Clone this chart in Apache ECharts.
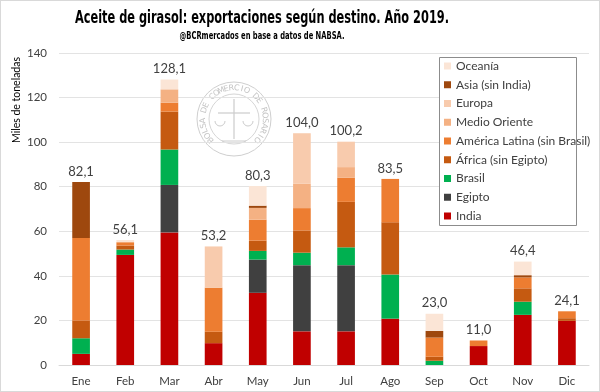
<!DOCTYPE html>
<html>
<head>
<meta charset="utf-8">
<script src="https://cdn.jsdelivr.net/npm/echarts@6/dist/echarts.min.js"></script>
<style>
html,body{margin:0;padding:0;background:#fff;}
#c{width:600px;height:392px;box-sizing:border-box;border:1px solid #d9d9d9;}
</style>
</head>
<body>
<div id="c"></div>
<script>
const categories = ['Ene','Feb','Mar','Abr','May','Jun','Jul','Ago','Sep','Oct','Nov','Dic'];
const india   = [5.0,49.4,59.5,9.8,32.4,15.1,15.1,20.8,0,8.5,22.5,19.8];
const egipto  = [0,0,21.3,0,14.9,29.7,29.7,0,0,0,0,0];
const brasil  = [7.0,2.4,15.9,0,3.9,5.6,8.0,19.8,1.9,0,5.9,0];
const africa  = [8.0,1.8,17.0,5.1,4.6,10.0,20.4,23.4,1.8,0,6.0,1.2];
const amlat   = [37.0,1.5,4.0,19.8,9.4,10.0,10.9,19.5,8.6,2.5,4.9,3.1];
const medio   = [0,0,6.0,0,5.3,10.9,4.7,0,0,0,0,0];
const europa  = [0,0,0,18.5,0,22.7,11.4,0,0,0,0,0];
const asia    = [25.1,0,0,0,1.0,0,0,0,3.0,0,1.0,0];
const oceania = [0,1.0,4.4,0,8.8,0,0,0,7.7,0,6.1,0];
const totals  = [82.1,56.1,128.1,53.2,80.3,104.0,100.2,83.5,23.0,11.0,46.4,24.1];
const yTicks  = [0,20,40,60,80,100,120,140];

const FONT = 'Lato, "Noto Sans", sans-serif';
const COND = '"DejaVu Sans Condensed", "DejaVu Sans", sans-serif';
const seriesDefs = [
  ['India', india, '#c00000'],
  ['Egipto', egipto, '#404040'],
  ['Brasil', brasil, '#00b050'],
  ['África (sin Egipto)', africa, '#c55a11'],
  ['América Latina (sin Brasil)', amlat, '#ed7d31'],
  ['Medio Oriente', medio, '#f4b183'],
  ['Europa', europa, '#f8cbad'],
  ['Asia (sin India)', asia, '#9e480e'],
  ['Oceanía', oceania, '#fbe5d6']
];
const series = seriesDefs.map(d => ({
  name: d[0], type: 'bar', stack: 'total', data: d[1], barWidth: '40%',
  itemStyle: {color: d[2]}, emphasis: {disabled: true}
}));
series.push({
  name: 'total', type: 'bar', stack: 'total', data: totals.map(() => 0), barWidth: '40%',
  itemStyle: {color: 'transparent'},
  label: {show: true, position: 'top', distance: 4, color: '#404040', fontSize: 13, fontFamily: FONT,
    formatter: p => totals[p.dataIndex].toFixed(1).replace('.', ',')}
});

// fit condensed text to a target width
const mctx = document.createElement('canvas').getContext('2d');
function fitText(text, font, targetW, x, y) {
  mctx.font = font;
  const w = mctx.measureText(text).width;
  return {type: 'text', x: x, y: y, scaleX: targetW / w, scaleY: 1,
    style: {text: text, font: font, fill: '#000', align: 'center', verticalAlign: 'middle'}, z: 10};
}

// watermark seal
const cx = 233, cy = 118;
const seal = [];
seal.push({type:'circle', shape:{cx:cx, cy:cy, r:37}, style:{fill:'none', stroke:'#cfcfcf', lineWidth:1}, z:0});
seal.push({type:'circle', shape:{cx:cx, cy:cy, r:25}, style:{fill:'none', stroke:'#d6d6d6', lineWidth:1}, z:0});
const sealTxt = 'BOLSA DE COMERCIO DE ROSARIO';
const a0 = -132, a1 = 132;
for (let i = 0; i < sealTxt.length; i++) {
  const th = (a0 + (a1 - a0) * i / (sealTxt.length - 1)) * Math.PI / 180;
  seal.push({type:'text', x: cx + 31 * Math.sin(th), y: cy - 31 * Math.cos(th), rotation: -th,
    style:{text: sealTxt[i], fill:'#c4c4c4', font:'8px "DejaVu Sans"', align:'center', verticalAlign:'middle'}, z:0});
}
seal.push({type:'line', shape:{x1:cx, y1:cy-20, x2:cx, y2:cy+20}, style:{stroke:'#cccccc', lineWidth:1.2}, z:0});
seal.push({type:'line', shape:{x1:cx-16, y1:cy-6, x2:cx+16, y2:cy-6}, style:{stroke:'#cccccc', lineWidth:1.2}, z:0});
seal.push({type:'arc', shape:{cx:cx-14, cy:cy+2, r:5, startAngle:0, endAngle:Math.PI}, style:{fill:'none', stroke:'#cccccc', lineWidth:1}, z:0});
seal.push({type:'arc', shape:{cx:cx+14, cy:cy+2, r:5, startAngle:0, endAngle:Math.PI}, style:{fill:'none', stroke:'#cccccc', lineWidth:1}, z:0});
seal.push({type:'line', shape:{x1:cx-12, y1:cy+22, x2:cx+12, y2:cy+22}, style:{stroke:'#cccccc', lineWidth:1}, z:0});

const chart = echarts.init(document.getElementById('c'), null, {renderer:'canvas'});
chart.setOption({
  animation: false,
  backgroundColor: '#fff',
  grid: {left: 58, right: 10, top: 52, bottom: 26, containLabel: false},
  legend: {
    orient: 'vertical', left: 438, top: 56,
    data: seriesDefs.map(d => d[0]).reverse(),
    icon: 'rect', itemWidth: 7, itemHeight: 7, itemGap: 6.75,
    padding: [3, 5, 3, 5],
    backgroundColor: '#fff',
    selectedMode: false, z: 20,
    textStyle: {fontFamily: FONT, fontSize: 12, color: '#404040', lineHeight: 12, height: 12}
  },
  xAxis: {
    type: 'category', data: categories,
    axisLine: {lineStyle: {color: '#d9d9d9'}}, axisTick: {show: false},
    axisLabel: {color: '#404040', fontFamily: FONT, fontSize: 11.5, margin: 10}
  },
  yAxis: {
    type: 'value', min: 0, max: 140, interval: 20,
    axisLine: {show: false}, axisTick: {show: false},
    splitLine: {lineStyle: {color: '#e3e3e3'}},
    axisLabel: {color: '#404040', fontFamily: FONT, fontSize: 11.5, margin: 12,
      formatter: v => yTicks.includes(v) ? String(v) : ''}
  },
  graphic: seal.concat([
    {type: 'rect', shape: {x: 438.5, y: 56.5, width: 137, height: 168}, style: {fill: 'none', stroke: '#8c8c8c', lineWidth: 1}, z: 100},
    fitText('Aceite de girasol: exportaciones según destino. Año 2019.', 'bold 18px ' + COND, 374, 261, 17),
    fitText('@BCRmercados en base a datos de NABSA.', 'bold 10.5px ' + COND, 165, 261, 35),
    {type: 'text', x: 16, y: 99, rotation: Math.PI / 2,
     style: {text: 'Miles de toneladas', fill: '#000', font: '10.5px ' + FONT, align: 'center', verticalAlign: 'middle'}}
  ]),
  series: series
});
</script>
</body>
</html>
